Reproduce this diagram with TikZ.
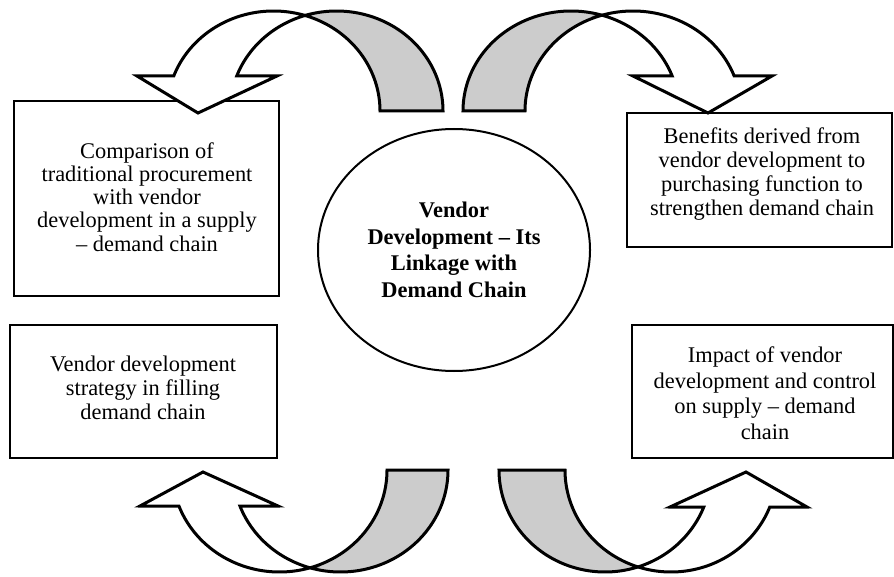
\documentclass[tikz,border=0pt]{standalone}
\usepackage{fontspec}
\setmainfont{Liberation Serif}
\usetikzlibrary{shapes.geometric}
\definecolor{bandgrey}{RGB}{204,204,204}
\begin{document}
\begin{tikzpicture}[x=1pt,y=1pt,yscale=-1,samples=60,
  every node/.style={font=\fontsize{22.4}{24}\selectfont},
  topicbox/.style={draw, line width=1.3pt, inner sep=0pt},
  topictext/.style={align=center, inner sep=0pt},
  hub/.style={draw, ellipse, line width=2pt, inner sep=0pt,
    minimum width=272pt, minimum height=242pt, align=center,
    font=\fontsize{22.4}{26.5}\selectfont\bfseries},
  band/.style={draw, line width=3pt, line join=miter, fill=bandgrey},
  head/.style={draw, line width=3pt, line join=miter, fill=white}]
\useasboundingbox (0,0) rectangle (894,577);

% topic boxes
\node[topicbox, minimum width=265pt, minimum height=195pt] (box1) at (146.5,198.5) {};
\node[topicbox, minimum width=265pt, minimum height=134pt] (box2) at (759.5,180) {};
\node[topicbox, minimum width=267pt, minimum height=133pt] (box3) at (143.5,391.5) {};
\node[topicbox, minimum width=261pt, minimum height=133pt] (box4) at (762.5,391.5) {};

\node[topictext, font=\fontsize{22.4}{23.2}\selectfont] (t1) at (147,197) {Comparison of\\traditional procurement\\with vendor\\development in a supply\\– demand chain};
\node[topictext] (t2) at (762,173.8) {Benefits derived from\\vendor development to\\purchasing function to\\strengthen demand chain};
\node[topictext] (t3) at (143,387.8) {Vendor development\\strategy in filling\\demand chain};
\node[topictext, font=\fontsize{22.4}{25.7}\selectfont] (t4) at (765,393.3) {Impact of vendor\\development and control\\on supply – demand\\chain};

% top-left curved arrow: back band (grey) and front band with head
\draw[band] plot[domain=252.8:360] ({336.5+106.5*cos(\x)},{111+100*sin(\x)})
  -- plot[domain=0:-72.8] ({273.5+106.5*cos(\x)},{111+100*sin(\x)}) -- cycle;
\draw[head] plot[domain=-72.8:-159.5] ({273.5+106.5*cos(\x)},{111+100*sin(\x)})
  -- (137,76) -- (198,113) -- (277,76)
  -- plot[domain=-159.5:-107.2] ({336.5+106.5*cos(\x)},{111+100*sin(\x)}) -- cycle;

% top-right curved arrow
\draw[band] plot[domain=180:286.7] ({571+108*cos(\x)},{111+100*sin(\x)})
  -- plot[domain=253.3:180] ({633+108*cos(\x)},{111+100*sin(\x)}) -- cycle;
\draw[head] plot[domain=253.3:339.5] ({633+108*cos(\x)},{111+100*sin(\x)})
  -- (772,76) -- (708,113) -- (633,76)
  -- plot[domain=339.5:286.7] ({571+108*cos(\x)},{111+100*sin(\x)}) -- cycle;

% bottom-left curved arrow
\draw[band] plot[domain=0:106.5] ({340.5+107.5*cos(\x)},{470+102*sin(\x)})
  -- plot[domain=73.5:0] ({279.5+107.5*cos(\x)},{470+102*sin(\x)}) -- cycle;
\draw[head] plot[domain=73.5:159.3] ({279.5+107.5*cos(\x)},{470+102*sin(\x)})
  -- (140,506) -- (203,472) -- (278,506)
  -- plot[domain=159.3:106.5] ({340.5+107.5*cos(\x)},{470+102*sin(\x)}) -- cycle;

% bottom-right curved arrow
\draw[band] plot[domain=180:71.9] ({605+106*cos(\x)},{470+102*sin(\x)})
  -- plot[domain=108.1:180] ({671+106*cos(\x)},{470+102*sin(\x)}) -- cycle;
\draw[head] plot[domain=108.1:21.3] ({671+106*cos(\x)},{470+102*sin(\x)})
  -- (807,507) -- (746,472) -- (670,507)
  -- plot[domain=21.3:71.9] ({605+106*cos(\x)},{470+102*sin(\x)}) -- cycle;

% central theme
\node[hub] (core) at (454,250) {Vendor\\Development – Its\\Linkage with\\Demand Chain};
\end{tikzpicture}
\end{document}
